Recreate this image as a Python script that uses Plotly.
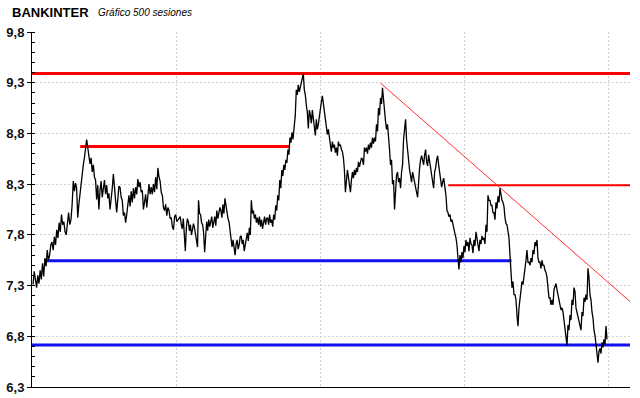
import numpy as np
import plotly.graph_objects as go

# ---- data ----
title_main = "BANKINTER"
title_sub = "Gráfico 500 sesiones"

# closing prices, in five consecutive stretches of the 500 sessions
seg_a = [7.31, 7.44, 7.36, 7.28, 7.40, 7.32, 7.45, 7.36, 7.52, 7.39, 7.57, 7.49, 7.65, 7.55, 7.60, 7.70, 7.73, 7.65,
         7.78, 7.70, 7.85, 7.77, 7.92, 7.83, 8.00, 7.90, 7.93, 7.83, 7.80, 7.90, 8.02, 7.90, 7.95, 8.10]
seg_b = [8.33, 8.23, 8.31, 8.26, 7.97, 8.10, 8.20, 8.34, 8.42, 8.49, 8.56, 8.64, 8.74, 8.66, 8.59, 8.50, 8.56, 8.42,
         8.49, 8.37, 8.34, 8.15, 8.29, 8.05, 8.24, 8.33, 8.17, 8.29, 8.34, 8.20, 8.29, 8.16, 8.21, 8.05, 8.14, 8.26,
         8.40, 8.22, 8.14, 8.02, 8.19, 8.28, 8.27, 8.17, 8.14, 7.99, 8.02, 7.92, 8.00, 8.12, 8.19, 8.08, 8.23, 8.12,
         8.26, 8.16, 8.27, 8.20, 8.35, 8.27, 8.32, 8.22, 8.24, 8.05, 8.14, 8.20, 8.07, 8.17, 8.30, 8.20, 8.27, 8.20,
         8.30, 8.22, 8.37, 8.25, 8.46, 8.37, 8.33, 8.22, 8.19, 8.07, 8.04, 8.10, 7.99, 8.07, 8.04, 7.96, 7.97, 7.88,
         7.85, 7.98, 8.00, 7.93]
seg_c = [7.98, 7.90, 7.86, 7.96, 7.80, 7.64, 7.87, 7.96, 7.93, 7.84, 7.90, 7.80, 7.85, 7.91, 7.87, 7.81, 7.77, 7.68,
         8.14, 8.01, 8.00, 7.92, 7.90, 7.82, 7.63, 7.81, 7.93, 7.84, 7.95, 7.88, 7.93, 7.98, 7.87, 7.92, 7.98, 7.89,
         8.04, 7.96, 8.02, 8.07, 8.04, 7.97, 8.10, 8.01, 8.16, 8.08, 8.04, 7.96, 7.93, 7.84, 7.80, 7.68, 7.75, 7.64,
         7.60, 7.71, 7.75, 7.66, 7.70, 7.78, 7.79, 7.71, 7.75, 7.64, 7.70, 7.78, 7.82, 7.74, 7.87, 7.80, 8.14, 8.01,
         8.04, 7.96, 8.00, 7.92, 7.97, 7.90, 7.98, 7.88, 7.95, 7.86, 7.93, 7.98, 7.90, 7.96, 7.97, 7.90, 8.00, 7.92,
         7.95, 7.88, 8.00, 7.95, 8.09, 8.04, 8.19, 8.14, 8.34, 8.26, 8.44, 8.38, 8.49, 8.44, 8.54, 8.51, 8.64, 8.59,
         8.76, 8.71, 8.81, 8.74]
seg_d = [8.98, 9.23, 9.18, 9.28, 9.21, 9.25, 9.28, 9.33, 9.39, 9.23, 9.18, 9.08, 9.01, 8.85, 9.03, 8.98, 8.90, 9.03,
         8.95, 8.88, 8.78, 8.94, 8.84, 8.89, 8.98, 9.05, 9.11, 9.17, 9.09, 9.03, 8.94, 8.89, 8.79, 8.84, 8.74, 8.69,
         8.62, 8.72, 8.66, 8.69, 8.61, 8.66, 8.58, 8.72, 8.68, 8.69, 8.64, 8.62, 8.56, 8.44, 8.22, 8.34, 8.44, 8.37,
         8.29, 8.22, 8.34, 8.42, 8.36, 8.44, 8.39, 8.46, 8.42, 8.52, 8.47, 8.52, 8.56, 8.54, 8.49, 8.66, 8.62, 8.66,
         8.60, 8.69, 8.64, 8.71, 8.66, 8.76, 8.70, 8.76, 8.72, 8.89, 8.82, 9.05, 8.98, 9.15, 9.09, 9.25, 9.08, 9.03,
         8.92, 8.84, 8.89, 8.79, 8.64, 8.49, 8.54, 8.30, 8.34, 8.05, 8.29, 8.39, 8.42, 8.32, 8.36, 8.26, 8.42, 8.49,
         8.74, 8.82, 8.94, 8.74, 8.59, 8.54, 8.44, 8.37, 8.32, 8.42, 8.36, 8.32, 8.28, 8.22, 8.17, 8.39, 8.46, 8.54,
         8.58, 8.54, 8.49, 8.59, 8.64, 8.52, 8.48, 8.59, 8.54, 8.46, 8.39, 8.34, 8.26, 8.42, 8.46, 8.54, 8.58, 8.49,
         8.42, 8.32, 8.27, 8.32, 8.36]
seg_e = [8.19, 8.04, 8.02, 7.98, 8.00, 7.93, 7.95, 7.89, 7.87, 7.81, 7.77, 7.70, 7.57, 7.46, 7.60, 7.53, 7.63, 7.57,
         7.69, 7.63, 7.75, 7.69, 7.73, 7.64, 7.77, 7.71, 7.70, 7.62, 7.75, 7.69, 7.83, 7.77, 7.70, 7.64, 7.75, 7.71,
         7.79, 7.75, 7.77, 7.71, 7.90, 7.83, 8.19, 8.14, 8.14, 8.09, 8.09, 8.02, 8.02, 7.95, 8.12, 8.06, 8.18, 8.12,
         8.26, 8.18, 8.14, 8.12, 8.08, 7.97, 7.91, 7.90, 7.85, 7.77, 7.60, 7.45, 7.28, 7.34, 7.21, 7.21, 7.16, 7.01,
         6.90, 7.08, 7.16, 7.28, 7.34, 7.31, 7.38, 7.50, 7.55, 7.65, 7.53, 7.53, 7.50, 7.57, 7.53, 7.65, 7.61, 7.73,
         7.69, 7.75, 7.57, 7.53, 7.53, 7.47, 7.55, 7.50, 7.50, 7.45, 7.43, 7.38, 7.26, 7.18, 7.18, 7.11, 7.16, 7.11,
         7.26, 7.30, 7.32, 7.26, 7.22, 7.16, 7.11, 7.06, 7.08, 7.04, 6.94, 6.86, 6.77, 6.71, 6.91, 6.86, 7.01, 6.96,
         7.16, 7.11, 7.28, 7.24, 7.08, 7.04, 7.01, 6.96, 6.91, 6.86, 7.04, 7.00, 7.18, 7.14, 7.21, 7.16, 7.47, 7.38,
         7.21, 7.16, 7.04, 6.98, 6.86, 6.81, 6.72, 6.65, 6.54, 6.65, 6.68, 6.63, 6.74, 6.69, 6.77, 6.72, 6.90, 6.77]
# first and last session number covered by each stretch
seg_sessions = [(0, 34), (35, 125), (128, 226), (228, 357), (359, 499)]

# support / resistance levels: (start session, end session, price)
resist_top = (-1, 519, 9.39)
resist_mid = (41, 223, 8.67)
resist_low = (361, 519, 8.29)
support_mid = (10, 416, 7.545)
support_low = (-1, 519, 6.713)
trend_line = ((302, 9.297), (519, 7.143))

y_ticks = [6.3, 6.8, 7.3, 7.8, 8.3, 8.8, 9.3, 9.8]
x_grid = [125, 250, 375, 500]

# ---- figure ----
xs, ys = [], []
for seg, (s0, s1) in zip([seg_a, seg_b, seg_c, seg_d, seg_e], seg_sessions):
    xs.extend(np.linspace(s0, s1, len(seg)).tolist())
    ys.extend(seg)

fig = go.Figure()

def hline(seg, color, width):
    s0, s1, v = seg
    fig.add_trace(go.Scatter(x=[s0, s1], y=[v, v], mode="lines",
                             line=dict(color=color, width=width),
                             hoverinfo="skip", showlegend=False))

hline(resist_top, "#ff0000", 3)
hline(resist_mid, "#ff0000", 3)
hline(resist_low, "#ff0000", 2)
hline(support_mid, "#1010f0", 3)
hline(support_low, "#1010f0", 3)
fig.add_trace(go.Scatter(x=[trend_line[0][0], trend_line[1][0]],
                         y=[trend_line[0][1], trend_line[1][1]], mode="lines",
                         line=dict(color="#ff3030", width=1),
                         hoverinfo="skip", showlegend=False))

fig.add_trace(go.Scatter(x=xs, y=ys, mode="lines",
                         line=dict(color="black", width=1.3),
                         showlegend=False))

FONT = "Liberation Sans, Arial, sans-serif"
GRID = "#cfcfcf"
fig.update_layout(
    width=640, height=398,
    margin=dict(l=32, r=10, t=32, b=11, autoexpand=False),
    paper_bgcolor="white", plot_bgcolor="white",
    separators=",.",
    font=dict(family=FONT, color="black"),
    xaxis=dict(range=[-0.9, 519], tickvals=x_grid, showticklabels=False,
               ticks="", showgrid=True, gridcolor=GRID, griddash="2px,2px",
               gridwidth=1, zeroline=False, showline=True, linecolor="black",
               linewidth=1, mirror=False, fixedrange=True, automargin=False),
    yaxis=dict(range=[6.3, 9.8], tickvals=y_ticks, tickformat=".1f",
               ticks="outside", ticklen=4, tickcolor="black",
               tickfont=dict(size=13, family=FONT, color="#111111", weight="bold"),
               showgrid=True, gridcolor=GRID, griddash="2px,2px", gridwidth=1,
               zeroline=False, showline=True, linecolor="black", linewidth=1,
               minor=dict(dtick=0.1, ticks="inside", ticklen=3, tickcolor="black", showgrid=False),
               fixedrange=True, automargin=False),
)

fig.add_annotation(xref="paper", yref="paper", x=-0.0368, y=1.056,
                   xanchor="left", yanchor="middle", showarrow=False,
                   text="<b>" + title_main + "</b>",
                   font=dict(size=13, family=FONT, color="black"))
fig.add_annotation(xref="paper", yref="paper", x=0.107, y=1.056,
                   xanchor="left", yanchor="middle", showarrow=False,
                   text="<i>" + title_sub + "</i>",
                   font=dict(size=10, family=FONT, color="black"))

# remove the browser's default 8 px page margin so the figure sits at the top-left corner
fig.write_html("out.html", config={"displayModeBar": False},
               post_script="document.body.style.margin='0px';")
